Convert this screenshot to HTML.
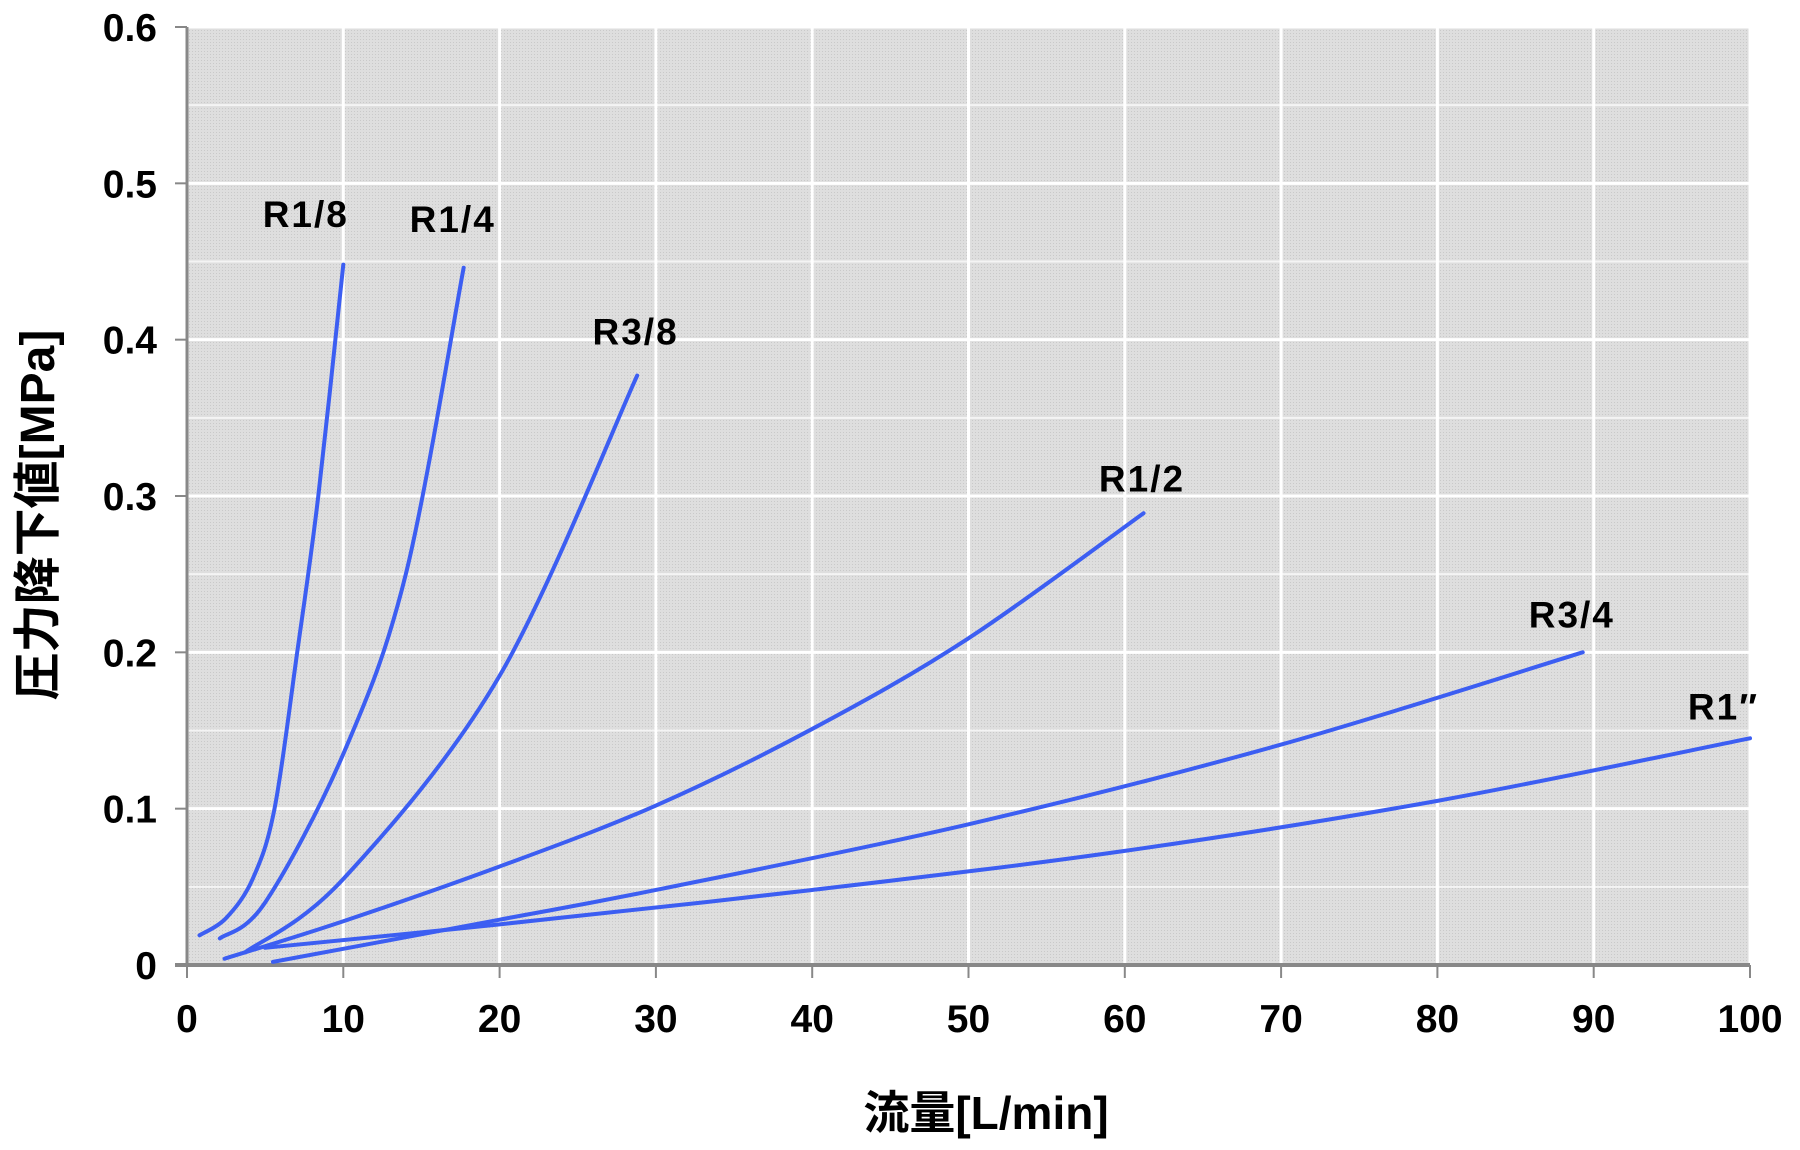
<!DOCTYPE html>
<html><head><meta charset="utf-8"><style>
html,body{margin:0;padding:0;background:#fff;}
svg{display:block;}
text{font-family:"Liberation Sans","Noto Sans CJK JP",sans-serif;font-weight:bold;fill:#000;}
</style></head><body>
<svg id="chart" width="1800" height="1150" viewBox="0 0 1800 1150" xmlns="http://www.w3.org/2000/svg">
<defs>
<pattern id="dots" width="3" height="3" patternUnits="userSpaceOnUse">
<rect width="3" height="3" fill="#dedede"/><rect width="1" height="1" fill="#c9c9c9"/>
</pattern>
</defs>
<rect x="187" y="27" width="1563" height="938" fill="url(#dots)"/>
<g id="grid"></g>
<g id="axes"></g>
<g id="series"></g>
<g id="labels"></g>
<text x="986" y="1129" font-size="46" text-anchor="middle">流量[L/min]</text>
<text transform="translate(54,515) rotate(-90)" font-size="48" text-anchor="middle">圧力降下値[MPa]</text>
</svg>
<script>
const xTicks=[0,10,20,30,40,50,60,70,80,90,100];
const yTicks=[0,0.1,0.2,0.3,0.4,0.5,0.6];
const yTickLabels=["0","0.1","0.2","0.3","0.4","0.5","0.6"];
const seriesNames=["R1/8","R1/4","R3/8","R1/2","R3/4","R1″"];
const s1x=[0.8,2.5,4.2,5.6,7.05,8.4,10.0];
const s1y=[0.019,0.03,0.055,0.1,0.2,0.3,0.448];
const s2x=[2.1,5.0,10.0,14.0,17.7];
const s2y=[0.017,0.04,0.135,0.25,0.446];
const s3x=[3.7,10.0,20.0,28.8];
const s3y=[0.008,0.055,0.185,0.377];
const s4x=[2.4,10,20,30,40,50,61.2];
const s4y=[0.004,0.028,0.063,0.102,0.151,0.209,0.289];
const s5x=[5.5,20,30,50,70,89.3];
const s5y=[0.002,0.029,0.048,0.09,0.141,0.2];
const s6x=[5.0,20,40,60,80,100];
const s6y=[0.011,0.026,0.048,0.073,0.105,0.145];
const labelX=[7.6,17.0,28.7,61.1,88.6,98.3];
const labelY=[0.472,0.469,0.397,0.303,0.216,0.157];

const L=187,R=1750,T=27,B=965;
const xs=v=>L+(v/100)*(R-L);
const ys=v=>B-(v/0.6)*(B-T);
const NS="http://www.w3.org/2000/svg";
function mk(tag,attrs,parent){const e=document.createElementNS(NS,tag);for(const k in attrs)e.setAttribute(k,attrs[k]);parent.appendChild(e);return e;}
const grid=document.getElementById('grid'),axes=document.getElementById('axes'),series=document.getElementById('series'),labels=document.getElementById('labels');
for(let i=0;i<yTicks.length-1;i++){const v=(yTicks[i]+yTicks[i+1])/2;
const g=mk('line',{x1:L,x2:R,y1:ys(v),y2:ys(v),stroke:'#f4f4f4','stroke-width':2},grid);

}
yTicks.forEach((v,i)=>{if(i>0){const g=mk('line',{x1:L,x2:R,y1:ys(v),y2:ys(v),stroke:'#fff','stroke-width':3},grid);

}
const t=mk('line',{x1:L-12,x2:L,y1:ys(v),y2:ys(v),stroke:'#888','stroke-width':2},axes);


const tx=mk('text',{x:L-30,y:ys(v)+14,'font-size':39,'text-anchor':'end'},axes);tx.textContent=yTickLabels[i];

});
xTicks.forEach(v=>{if(v>0){const g=mk('line',{x1:xs(v),x2:xs(v),y1:T,y2:B,stroke:'#fff','stroke-width':3},grid);

}
const t=mk('line',{x1:xs(v),x2:xs(v),y1:B,y2:B+13,stroke:'#888','stroke-width':2},axes);


const tx=mk('text',{x:xs(v),y:B+67,'font-size':39,'text-anchor':'middle'},axes);tx.textContent=String(v);

});
const ya=mk('line',{x1:L,x2:L,y1:T,y2:B,stroke:'#888','stroke-width':3},axes);


const xa=mk('line',{x1:L-12,x2:R,y1:B,y2:B,stroke:'#888','stroke-width':4},axes);


function pathFor(X,Y){const p=X.map((x,i)=>[xs(x),ys(Y[i])]);let d='M'+p[0][0]+','+p[0][1];
for(let i=0;i<p.length-1;i++){const p0=p[i-1]||p[i],p1=p[i],p2=p[i+1],p3=p[i+2]||p2;
const c1=[p1[0]+(p2[0]-p0[0])/6,p1[1]+(p2[1]-p0[1])/6],c2=[p2[0]-(p3[0]-p1[0])/6,p2[1]-(p3[1]-p1[1])/6];
d+=' C'+c1.join(',')+' '+c2.join(',')+' '+p2.join(',');}return d;}
const allX=[s1x,s2x,s3x,s4x,s5x,s6x],allY=[s1y,s2y,s3y,s4y,s5y,s6y];
allX.forEach((X,i)=>{const pth=mk('path',{d:pathFor(X,allY[i]),fill:'none',stroke:'#3c5ef2','stroke-width':4,'stroke-linecap':'round'},series);


const lb=mk('text',{x:xs(labelX[i]),y:ys(labelY[i]),'font-size':37,'text-anchor':'middle','letter-spacing':'2'},labels);lb.textContent=seriesNames[i];

});
</script>
</body></html>
